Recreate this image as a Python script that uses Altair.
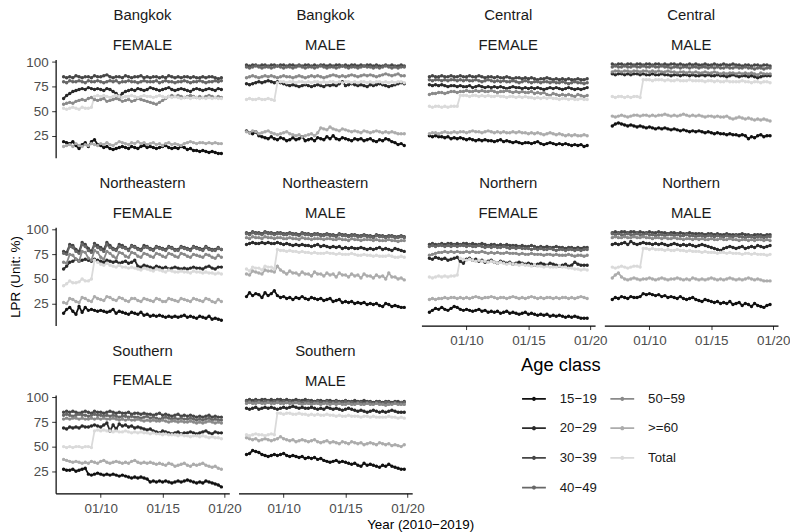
import altair as alt
import pandas as pd

FONT = "Liberation Sans"

AGES = ["15−19", "20−29", "30−39", "40−49", "50−59", ">=60", "Total"]
GREYS = ["#111111", "#2a2a2a", "#464646", "#676767", "#8a8a8a", "#acacac", "#dadada"]

# quarterly observations 2007Q1 .. 2019Q4
QUARTERS = pd.date_range("2007-01-01", periods=52, freq="3MS")

BANGKOK_FEMALE = {
    "15−19": [19,18,17,19, 15,12,16,18, 14,19,21,16, 15,13,14,12, 11,12,13,14, 13,12,14,13, 12,14,15,13, 14,13,12,13, 14,15,13,12, 13,12,14,13, 11,12,10,10, 9,10,9,8, 9,8,7,7],
    "20−29": [63,66,68,70, 71,72,73,72, 74,73,72,73, 72,71,73,72, 70,68,65,68, 70,71,72,71, 73,72,71,72, 74,73,72,71, 72,73,74,72, 71,72,73,72, 71,70,72,73, 72,71,72,73, 72,71,73,72],
    "30−39": [85,84,85,84, 86,85,84,85, 85,84,86,85, 85,86,87,85, 84,85,85,84, 86,85,84,85, 85,86,84,85, 84,85,85,84, 85,84,86,85, 84,85,84,85, 85,84,85,84, 84,85,84,85, 85,84,83,84],
    "40−49": [80,79,81,80, 80,81,80,79, 81,80,80,81, 80,79,80,81, 80,81,79,80, 80,81,80,80, 79,80,81,80, 80,80,81,79, 80,81,80,80, 79,80,80,81, 80,79,80,80, 81,80,79,80, 80,81,80,81],
    "50−59": [57,58,59,58, 60,61,62,61, 63,64,62,61, 62,63,60,61, 62,63,62,60, 61,62,60,61, 63,62,61,60, 59,58,57,59, 61,63,65,66, 65,66,65,64, 65,66,65,64, 65,64,65,66, 65,64,65,64],
    ">=60":  [14,15,16,14, 17,15,14,16, 15,17,16,15, 17,16,18,16, 15,17,19,18, 17,16,18,17, 19,17,18,16, 17,18,16,17, 15,17,18,16, 17,16,15,17, 18,19,18,17, 18,18,17,18, 17,18,17,17],
    "Total": [53,52,53,54, 53,52,54,53, 53,54,65,66, 65,66,65,64, 65,66,65,64, 65,65,66,65, 64,65,66,65, 65,64,65,66, 65,64,65,64, 65,64,63,64, 64,63,64,64, 63,64,63,64, 63,64,63,63],
}

BANGKOK_MALE = {
    "15−19": [30,28,27,29, 25,24,23,22, 24,22,21,23, 22,20,21,23, 21,22,24,20, 21,22,20,23, 22,21,24,22, 25,22,21,23, 22,21,20,22, 21,22,20,21, 22,20,19,21, 20,22,21,19, 18,16,17,15],
    "20−29": [78,77,78,79, 80,79,80,81, 80,79,80,79, 78,77,76,77, 76,75,76,77, 76,75,76,77, 76,75,77,76, 77,76,78,80, 76,77,78,77, 76,77,76,75, 77,76,77,78, 77,76,75,76, 77,78,79,78],
    "30−39": [97,96,97,97, 96,97,97,96, 97,97,96,97, 97,96,97,97, 96,97,96,97, 97,96,97,96, 97,97,96,97, 96,97,97,96, 97,96,97,97, 96,97,96,97, 97,96,97,96, 96,97,96,97, 96,96,97,96],
    "40−49": [95,94,95,96, 95,94,95,95, 94,95,96,95, 94,95,95,94, 95,96,95,94, 95,95,94,95, 96,95,94,95, 95,94,95,96, 95,94,95,95, 94,95,96,95, 95,94,95,94, 95,96,95,94, 95,94,95,95],
    "50−59": [84,85,86,85, 84,85,86,85, 86,85,84,85, 86,85,85,84, 85,86,85,84, 85,86,85,86, 85,84,85,86, 87,86,85,86, 85,86,87,86, 85,86,87,86, 87,86,85,86, 87,88,87,86, 87,88,86,86],
    ">=60":  [29,28,30,29, 27,28,29,30, 28,27,26,27, 28,29,27,26, 25,26,24,25, 26,27,25,28, 33,32,31,34, 32,31,30,32, 31,30,29,30, 29,28,30,29, 28,29,30,29, 28,29,28,29, 28,27,27,27],
    "Total": [62,63,62,62, 63,62,62,63, 62,61,79,80, 80,79,80,80, 79,80,80,79, 80,79,80,80, 79,80,79,80, 80,79,80,79, 80,80,79,80, 79,80,80,79, 80,79,80,80, 79,80,79,80, 79,80,80,79],
}

CENTRAL_FEMALE = {
    "15−19": [25,24,25,24, 24,23,24,22, 23,22,23,22, 21,22,21,20, 21,20,21,20, 20,19,20,21, 19,20,19,18, 19,18,17,18, 18,17,18,19, 17,16,17,18, 17,16,17,16, 17,16,15,16, 15,16,14,15],
    "20−29": [77,76,77,76, 77,76,75,76, 76,75,76,75, 75,76,74,75, 76,75,74,75, 74,75,74,75, 74,73,74,75, 74,74,73,74, 73,74,73,74, 73,72,73,74, 73,74,73,72, 73,74,73,72, 73,72,73,74],
    "30−39": [85,86,85,85, 86,85,85,86, 85,85,86,85, 85,86,85,85, 86,85,84,85, 85,84,85,84, 84,85,84,83, 84,84,83,84, 83,84,83,82, 83,83,84,83, 82,83,82,83, 82,83,82,82, 83,82,82,83],
    "40−49": [82,81,82,82, 81,82,81,82, 82,81,82,81, 82,81,81,82, 81,80,81,82, 81,80,81,80, 81,80,80,81, 80,79,80,81, 80,79,80,80, 79,80,80,79, 80,79,79,80, 79,78,79,80, 79,79,78,79],
    "50−59": [67,68,68,69, 69,68,69,70, 70,69,70,70, 71,70,70,71, 70,71,70,70, 71,70,69,70, 70,71,70,69, 70,69,70,69, 69,70,68,69, 68,69,67,66, 68,67,66,67, 66,67,66,65, 67,66,65,66],
    ">=60":  [27,28,28,27, 28,29,28,28, 29,28,29,29, 28,29,30,29, 29,28,29,30, 29,28,29,28, 29,28,28,29, 28,29,28,28, 27,28,27,28, 27,26,27,28, 27,26,27,26, 25,26,25,26, 25,25,26,25],
    "Total": [55,54,55,55, 54,55,54,55, 55,55,66,66, 66,65,66,66, 65,66,65,66, 65,65,66,65, 65,64,65,65, 64,65,64,65, 64,64,63,64, 63,64,63,64, 63,63,62,63, 63,62,63,62, 62,63,62,62],
}

CENTRAL_MALE = {
    "15−19": [35,37,38,37, 36,35,36,35, 34,35,34,33, 34,33,32,33, 32,33,32,31, 32,31,30,31, 30,29,30,29, 30,29,28,29, 28,27,28,27, 27,26,27,26, 26,25,26,25, 22,24,23,25, 26,24,25,25],
    "20−29": [88,87,88,88, 87,88,87,88, 88,87,88,87, 87,88,87,87, 88,87,87,86, 87,87,86,87, 87,86,87,86, 86,87,86,87, 86,86,87,86, 86,85,86,87, 86,85,86,86, 85,86,85,84, 85,86,86,86],
    "30−39": [98,97,98,98, 97,98,98,97, 98,98,97,98, 98,97,98,98, 97,98,97,98, 98,97,98,97, 97,98,97,98, 97,97,98,97, 97,98,97,97, 98,97,97,98, 97,97,96,97, 97,96,97,97, 96,97,97,96],
    "40−49": [95,96,95,95, 96,95,95,96, 95,95,96,95, 95,96,95,95, 96,95,95,94, 95,95,94,95, 95,94,95,95, 94,95,95,94, 95,94,95,94, 94,95,94,94, 95,94,94,95, 94,94,93,94, 94,93,94,94],
    "50−59": [90,91,91,90, 91,91,90,91, 91,90,91,91, 90,91,90,91, 90,90,91,90, 90,89,90,90, 89,90,89,90, 89,89,90,89, 89,90,89,88, 89,88,89,89, 88,89,88,89, 88,89,88,87, 89,88,88,88],
    ">=60":  [45,44,45,46, 45,44,45,46, 46,45,46,46, 45,46,45,46, 46,47,46,45, 46,45,46,47, 46,45,46,45, 46,45,44,45, 45,44,45,44, 44,45,43,42, 43,44,43,42, 43,42,41,42, 41,42,41,40],
    "Total": [65,64,65,65, 64,65,64,65, 65,64,82,82, 82,81,82,82, 82,81,82,81, 81,82,81,81, 81,82,81,81, 81,81,80,81, 81,80,81,80, 80,81,80,80, 80,80,81,80, 80,79,80,80, 79,80,80,79],
}

NORTHEASTERN_FEMALE = {
    "15−19": [15,19,21,17, 14,22,16,21, 18,19,18,17, 18,17,16,17, 19,15,17,16, 15,14,16,15, 14,16,13,14, 12,13,12,13, 12,11,12,11, 12,11,12,13, 11,12,11,10, 12,11,10,12, 9,10,9,8],
    "20−29": [60,63,67,68, 70,68,69,70, 69,68,70,69, 68,67,69,68, 67,68,66,67, 68,66,67,69, 63,62,64,63, 62,61,63,62, 61,62,60,61, 62,61,60,61, 60,61,62,61, 61,60,62,63, 61,60,62,62],
    "30−39": [78,77,85,84, 80,78,87,85, 81,78,86,84, 82,80,87,84, 81,80,85,84, 82,80,84,83, 81,80,84,83, 81,80,83,82, 81,80,83,82, 80,80,83,82, 81,80,83,82, 81,80,83,81, 80,80,82,80],
    "40−49": [76,75,83,82, 78,76,85,83, 79,77,84,82, 80,78,85,82, 80,79,83,82, 81,79,83,82, 80,79,82,82, 80,79,82,81, 80,79,82,81, 79,79,82,81, 80,79,82,81, 80,79,82,80, 79,79,81,80],
    "50−59": [67,66,75,74, 70,68,78,77, 71,69,79,77, 72,70,78,76, 73,71,77,76, 73,72,77,76, 73,72,76,75, 73,72,76,75, 73,72,76,75, 73,72,76,75, 73,72,75,74, 73,72,75,74, 72,71,74,72],
    ">=60":  [26,25,30,29, 27,26,31,30, 28,27,32,30, 29,28,32,31, 29,28,31,30, 28,27,30,30, 28,27,30,29, 28,27,30,29, 27,27,30,29, 28,27,30,29, 28,27,30,29, 28,27,30,29, 27,26,29,27],
    "Total": [43,45,48,46, 46,47,50,48, 48,50,69,67, 65,64,66,64, 63,62,64,62, 62,61,62,61, 60,59,61,60, 59,58,60,59, 58,57,59,58, 57,57,58,57, 57,56,58,57, 57,56,57,56, 56,55,56,55],
}

NORTHEASTERN_MALE = {
    "15−19": [32,36,33,35, 34,31,36,33, 35,38,33,31, 32,30,31,29, 31,30,32,30, 29,31,30,29, 30,28,29,30, 27,28,29,26, 27,26,27,25, 26,25,26,24, 25,24,25,23, 22,25,24,22, 23,22,21,21],
    "20−29": [85,86,87,86, 86,87,86,87, 86,86,87,86, 85,86,85,84, 85,84,85,84, 84,83,84,85, 83,84,83,82, 83,82,83,81, 82,81,82,81, 81,82,81,80, 81,80,81,82, 80,81,80,79, 81,80,79,78],
    "30−39": [97,96,98,97, 97,96,98,97, 97,96,97,97, 96,96,97,96, 96,95,97,96, 96,95,96,96, 95,95,96,95, 95,94,96,95, 95,94,95,95, 94,94,95,94, 94,93,95,94, 94,93,94,94, 93,93,94,93],
    "40−49": [96,95,97,96, 96,95,97,96, 96,95,96,96, 95,95,96,95, 95,94,96,95, 95,94,95,95, 94,94,95,94, 94,93,95,94, 94,93,94,94, 93,93,94,93, 93,92,94,93, 93,92,93,93, 92,92,93,92],
    "50−59": [92,91,93,92, 92,91,93,92, 92,91,92,92, 91,91,92,91, 91,90,92,91, 91,90,91,91, 91,90,91,91, 90,90,91,90, 90,89,91,90, 90,89,90,90, 90,89,90,89, 89,89,90,89, 89,88,89,89],
    ">=60":  [55,54,58,57, 56,55,59,58, 58,57,63,59, 57,55,58,56, 56,54,57,55, 55,53,57,55, 55,53,56,54, 55,52,56,54, 54,52,55,53, 54,51,55,53, 53,51,54,52, 53,50,56,52, 52,50,51,49],
    "Total": [60,58,62,61, 61,59,63,62, 62,60,80,79, 79,78,79,78, 78,77,78,77, 77,76,77,76, 76,76,77,76, 76,75,76,75, 75,75,76,75, 74,74,75,74, 74,73,74,73, 73,73,74,73, 72,72,73,72],
}

NORTHERN_FEMALE = {
    "15−19": [16,18,20,19, 21,19,18,20, 22,21,19,18, 19,18,17,18, 19,17,18,16, 17,16,17,15, 16,17,15,16, 15,14,15,16, 14,15,14,13, 14,13,14,12, 13,12,13,12, 11,12,11,12, 11,10,10,10],
    "20−29": [71,70,72,71, 70,71,69,70, 71,72,68,66, 70,71,69,70, 68,69,67,68, 69,67,66,68, 67,66,67,65, 66,67,66,65, 66,65,64,65, 66,65,64,66, 65,64,63,64, 65,63,64,67, 65,64,64,64],
    "30−39": [85,86,85,85, 86,85,86,86, 85,86,85,86, 86,85,86,85, 85,86,85,84, 85,85,84,85, 84,85,84,84, 84,83,84,83, 83,84,83,82, 83,82,83,82, 82,83,82,82, 81,82,82,81, 82,81,82,82],
    "40−49": [83,84,83,84, 84,83,84,83, 84,83,84,84, 83,84,83,83, 84,83,82,83, 82,83,82,82, 83,82,81,82, 81,82,81,81, 81,80,81,80, 81,80,80,81, 80,79,80,80, 79,80,80,79, 80,79,80,80],
    "50−59": [74,75,76,77, 77,78,77,78, 77,78,77,77, 78,77,78,77, 77,78,77,76, 77,76,77,76, 76,77,76,76, 76,75,76,75, 75,76,75,75, 75,74,75,75, 74,75,74,74, 74,75,74,73, 74,74,73,74],
    ">=60":  [29,30,29,30, 30,31,30,31, 31,30,31,30, 31,30,31,32, 31,30,31,31, 32,31,30,31, 31,30,31,32, 31,30,31,30, 31,32,31,30, 31,30,31,31, 30,31,30,31, 31,30,31,30, 31,32,31,30],
    "Total": [52,51,52,53, 52,53,52,53, 53,54,71,70, 69,70,69,68, 69,68,68,67, 68,67,66,67, 66,65,66,65, 65,64,65,64, 64,63,64,63, 63,62,63,62, 62,62,63,62, 62,61,61,60, 60,59,60,59],
}

NORTHERN_MALE = {
    "15−19": [29,31,30,32, 31,30,32,31, 31,32,35,34, 35,34,33,34, 32,33,31,32, 31,30,32,30, 29,30,31,29, 28,27,29,28, 27,26,27,25, 26,25,27,24, 25,26,23,25, 24,22,25,23, 22,21,23,24],
    "20−29": [85,86,85,86, 87,85,88,86, 85,86,87,86, 86,85,86,85, 86,85,84,85, 86,85,84,85, 84,85,84,83, 84,85,84,83, 82,81,80,79, 81,82,83,82, 81,82,83,81, 82,83,82,84, 83,82,83,84],
    "30−39": [97,98,97,98, 98,97,98,98, 97,98,97,97, 98,97,97,98, 97,97,96,97, 97,96,97,96, 96,97,96,96, 96,96,95,96, 96,95,96,95, 95,96,95,95, 95,95,96,95, 95,94,95,95, 95,94,95,95],
    "40−49": [96,95,96,95, 95,96,95,95, 96,95,95,96, 95,95,94,95, 95,94,95,95, 94,95,94,94, 95,94,94,93, 94,94,93,94, 94,93,94,93, 93,94,93,93, 94,93,93,92, 93,93,92,93, 93,92,93,93],
    "50−59": [92,93,92,92, 93,92,92,93, 92,92,93,92, 92,91,92,92, 91,92,91,91, 92,91,91,90, 91,91,90,91, 90,91,90,90, 91,90,90,91, 90,90,91,90, 90,89,90,90, 89,90,89,90, 90,89,90,89],
    ">=60":  [51,54,56,52, 50,49,50,51, 50,49,50,50, 51,50,49,50, 51,50,49,50, 50,51,50,49, 50,49,51,50, 49,50,49,50, 51,50,49,50, 49,50,51,50, 49,50,49,50, 51,50,49,50, 49,48,48,48],
    "Total": [62,61,62,63, 62,61,62,63, 63,62,81,81, 80,81,80,80, 80,79,80,79, 79,80,79,79, 78,79,78,78, 78,77,78,77, 77,77,76,77, 77,76,77,76, 76,76,75,76, 76,75,76,75, 75,75,74,75],
}

SOUTHERN_FEMALE = {
    "15−19": [27,26,26,27, 25,26,27,28, 22,21,22,23, 22,21,22,21, 22,21,20,21, 20,19,18,19, 18,19,18,17, 14,15,14,15, 14,15,14,13, 14,15,14,15, 16,15,14,13, 14,13,15,14, 13,12,11,9],
    "20−29": [69,68,70,69, 70,69,71,70, 70,71,72,71, 70,72,74,66, 72,68,73,71, 72,70,71,69, 70,69,68,67, 68,66,65,64, 66,65,64,63, 64,65,63,64, 64,65,64,63, 64,65,66,64, 63,65,64,64],
    "30−39": [85,86,85,86, 85,84,85,86, 85,84,86,85, 85,84,85,86, 85,84,85,84, 84,85,83,84, 84,83,84,83, 83,82,83,84, 82,83,82,81, 82,83,81,82, 81,82,81,80, 81,80,81,82, 80,81,80,80],
    "40−49": [82,83,82,81, 82,83,82,82, 81,82,83,82, 82,81,82,81, 82,81,80,81, 81,80,81,80, 80,79,80,81, 79,80,79,78, 79,80,79,78, 79,78,79,78, 78,79,78,77, 78,77,78,79, 77,78,77,77],
    "50−59": [78,79,78,79, 79,78,79,78, 78,79,78,79, 78,79,78,78, 79,78,77,78, 77,78,77,77, 78,77,76,77, 76,77,76,76, 77,76,75,76, 76,75,76,75, 75,76,75,74, 75,74,75,76, 75,74,75,74],
    ">=60":  [37,36,35,34, 35,34,33,34, 33,35,34,33, 35,36,34,33, 34,35,34,33, 34,33,35,36, 34,33,34,33, 34,33,32,33, 32,31,33,32, 30,31,32,33, 31,30,32,31, 32,33,31,30, 29,30,28,27],
    "Total": [50,49,50,49, 50,50,49,50, 50,49,66,67, 66,67,66,66, 65,66,65,65, 66,65,64,65, 64,65,64,64, 63,64,63,63, 62,63,62,62, 62,61,62,61, 61,60,61,61, 60,61,60,59, 60,59,59,58],
}

SOUTHERN_MALE = {
    "15−19": [42,43,46,45, 44,42,41,40, 41,42,41,42, 43,41,40,41, 40,39,40,38, 39,38,39,37, 38,36,35,34, 35,36,34,35, 34,33,32,33, 31,30,33,31, 32,31,30,29, 31,30,32,30, 29,28,27,27],
    "20−29": [89,88,89,90, 88,89,90,89, 90,89,88,89, 90,89,90,91, 90,89,90,89, 89,90,89,88, 89,88,90,89, 88,89,88,87, 88,89,88,87, 86,87,86,85, 86,87,86,85, 86,85,86,87, 86,85,85,85],
    "30−39": [97,98,97,98, 97,98,98,97, 98,97,98,98, 97,98,97,97, 98,97,97,98, 97,97,96,97, 97,96,97,97, 96,97,96,96, 97,96,96,97, 96,96,97,96, 96,95,96,96, 95,96,96,95, 96,96,95,96],
    "40−49": [96,96,95,96, 96,95,96,96, 95,96,96,95, 96,95,96,95, 95,96,95,95, 96,95,95,96, 95,95,96,95, 95,96,95,95, 96,95,95,94, 95,95,94,95, 95,94,95,95, 94,95,95,94, 95,94,95,95],
    "50−59": [94,95,94,94, 95,94,94,95, 94,94,95,94, 94,95,94,94, 95,94,93,94, 94,93,94,94, 93,94,94,93, 94,93,94,93, 93,94,93,93, 94,93,93,94, 93,93,94,93, 93,92,93,93, 94,93,93,93],
    ">=60":  [59,58,57,58, 56,57,58,57, 56,57,58,60, 58,57,56,57, 55,56,57,56, 55,56,57,55, 54,55,56,54, 55,54,53,55, 54,53,55,54, 53,54,52,53, 54,53,52,54, 53,52,53,51, 52,51,50,52],
    "Total": [62,61,62,63, 62,62,61,62, 63,62,84,84, 83,84,84,83, 83,84,83,83, 82,83,82,83, 82,82,83,82, 82,81,82,81, 81,82,81,81, 81,80,81,81, 80,81,80,80, 80,80,81,80, 80,79,80,79],
}

PANELS = [
    ("Bangkok", "FEMALE", BANGKOK_FEMALE), ("Bangkok", "MALE", BANGKOK_MALE),
    ("Central", "FEMALE", CENTRAL_FEMALE), ("Central", "MALE", CENTRAL_MALE),
    ("Northeastern", "FEMALE", NORTHEASTERN_FEMALE), ("Northeastern", "MALE", NORTHEASTERN_MALE),
    ("Northern", "FEMALE", NORTHERN_FEMALE), ("Northern", "MALE", NORTHERN_MALE),
    ("Southern", "FEMALE", SOUTHERN_FEMALE), ("Southern", "MALE", SOUTHERN_MALE),
]

bad = [(r, s, a, len(d[a])) for r, s, d in PANELS for a in AGES if len(d[a]) != len(QUARTERS)]
if bad:
    raise SystemExit(f"length mismatch: {bad}")

records = []
for region, sex, series in PANELS:
    for age in AGES:
        for day, v in zip(QUARTERS, series[age]):
            records.append({"panel": f"{region} {sex}", "age": age, "date": day, "lpr": v})
df = pd.DataFrame(records)

W, H = 175, 99
X_DOMAIN = [alt.DateTime(year=2006, month=5, date=11), alt.DateTime(year=2020, month=5, date=22)]
X_TICKS = [alt.DateTime(year=y, month=1, date=1) for y in (2010, 2015, 2020)]

color_scale = alt.Scale(domain=AGES, range=GREYS)
legend = alt.Legend(
    title="Age class", orient="none", legendX=469, legendY=299, columns=2,
    titleFont=FONT, titleFontSize=18.5, titleFontWeight="normal", titleColor="#000000",
    titlePadding=11,
    labelFont=FONT, labelFontSize=13.3, labelColor="#1a1a1a", labelOffset=13,
    symbolType="M-1,0L1,0M-0.1,0A0.1,0.1,0,1,1,0.1,0A0.1,0.1,0,1,1,-0.1,0Z",
    symbolSize=576, symbolStrokeWidth=1.8, rowPadding=9.9, columnPadding=9,
)


def panel(idx, region, sex):
    col, row = idx % 4, idx // 4
    show_x = row == 2 or (row == 1 and col >= 2)
    if show_x:
        is_title = (region, sex) == ("Southern", "MALE")
        x_axis = alt.Axis(values=X_TICKS, format="%m/%y", labelPadding=4,
                          title="Year (2010−2019)" if is_title else None,
                          titleX=183 if is_title else alt.Undefined,
                          titlePadding=3)
    else:
        x_axis = None
    if col == 0:
        y_axis = alt.Axis(values=[25, 50, 75, 100], labelPadding=3.5,
                          title="LPR (Unit: %)" if row == 1 else None, titlePadding=3)
    else:
        y_axis = None
    return alt.Chart(df).transform_filter(
        alt.datum.panel == f"{region} {sex}"
    ).mark_line(
        strokeWidth=1.8,
        point=alt.OverlayMarkDef(filled=True, size=12, opacity=1),
    ).encode(
        x=alt.X("date:T", scale=alt.Scale(domain=X_DOMAIN), axis=x_axis),
        y=alt.Y("lpr:Q", scale=alt.Scale(domain=[2.5, 102.5], nice=False, zero=False), axis=y_axis),
        color=alt.Color("age:N", scale=color_scale, legend=legend),
    ).properties(
        width=W, height=H,
        title=alt.TitleParams(
            region, subtitle=sex, font=FONT, fontSize=15, fontWeight="normal", color="#1a1a1a",
            subtitleFont=FONT, subtitleFontSize=15, subtitleColor="#1a1a1a",
            subtitlePadding=15, offset=2.2 if col == 0 else 6.5,
            anchor="middle", frame="group",
        ),
    )


charts = [panel(i, r, s) for i, (r, s, _) in enumerate(PANELS)]

chart = alt.concat(
    *charts, columns=4, spacing={"row": 70, "column": 9.3}, bounds="flush",
).properties(
    padding={"top": -2, "left": 0, "right": 0, "bottom": 0},
).configure_view(stroke=None).configure_axis(
    grid=False, labelFont=FONT, labelFontSize=13.5, labelColor="#4d4d4d",
    titleFont=FONT, titleFontSize=13.5, titleFontWeight="normal", titleColor="#000000",
    domainColor="#000000", domainWidth=1.2, tickColor="#333333", tickSize=4, tickWidth=1,
)

chart.save("out.html", embed_options={"renderer": "svg", "actions": False})
